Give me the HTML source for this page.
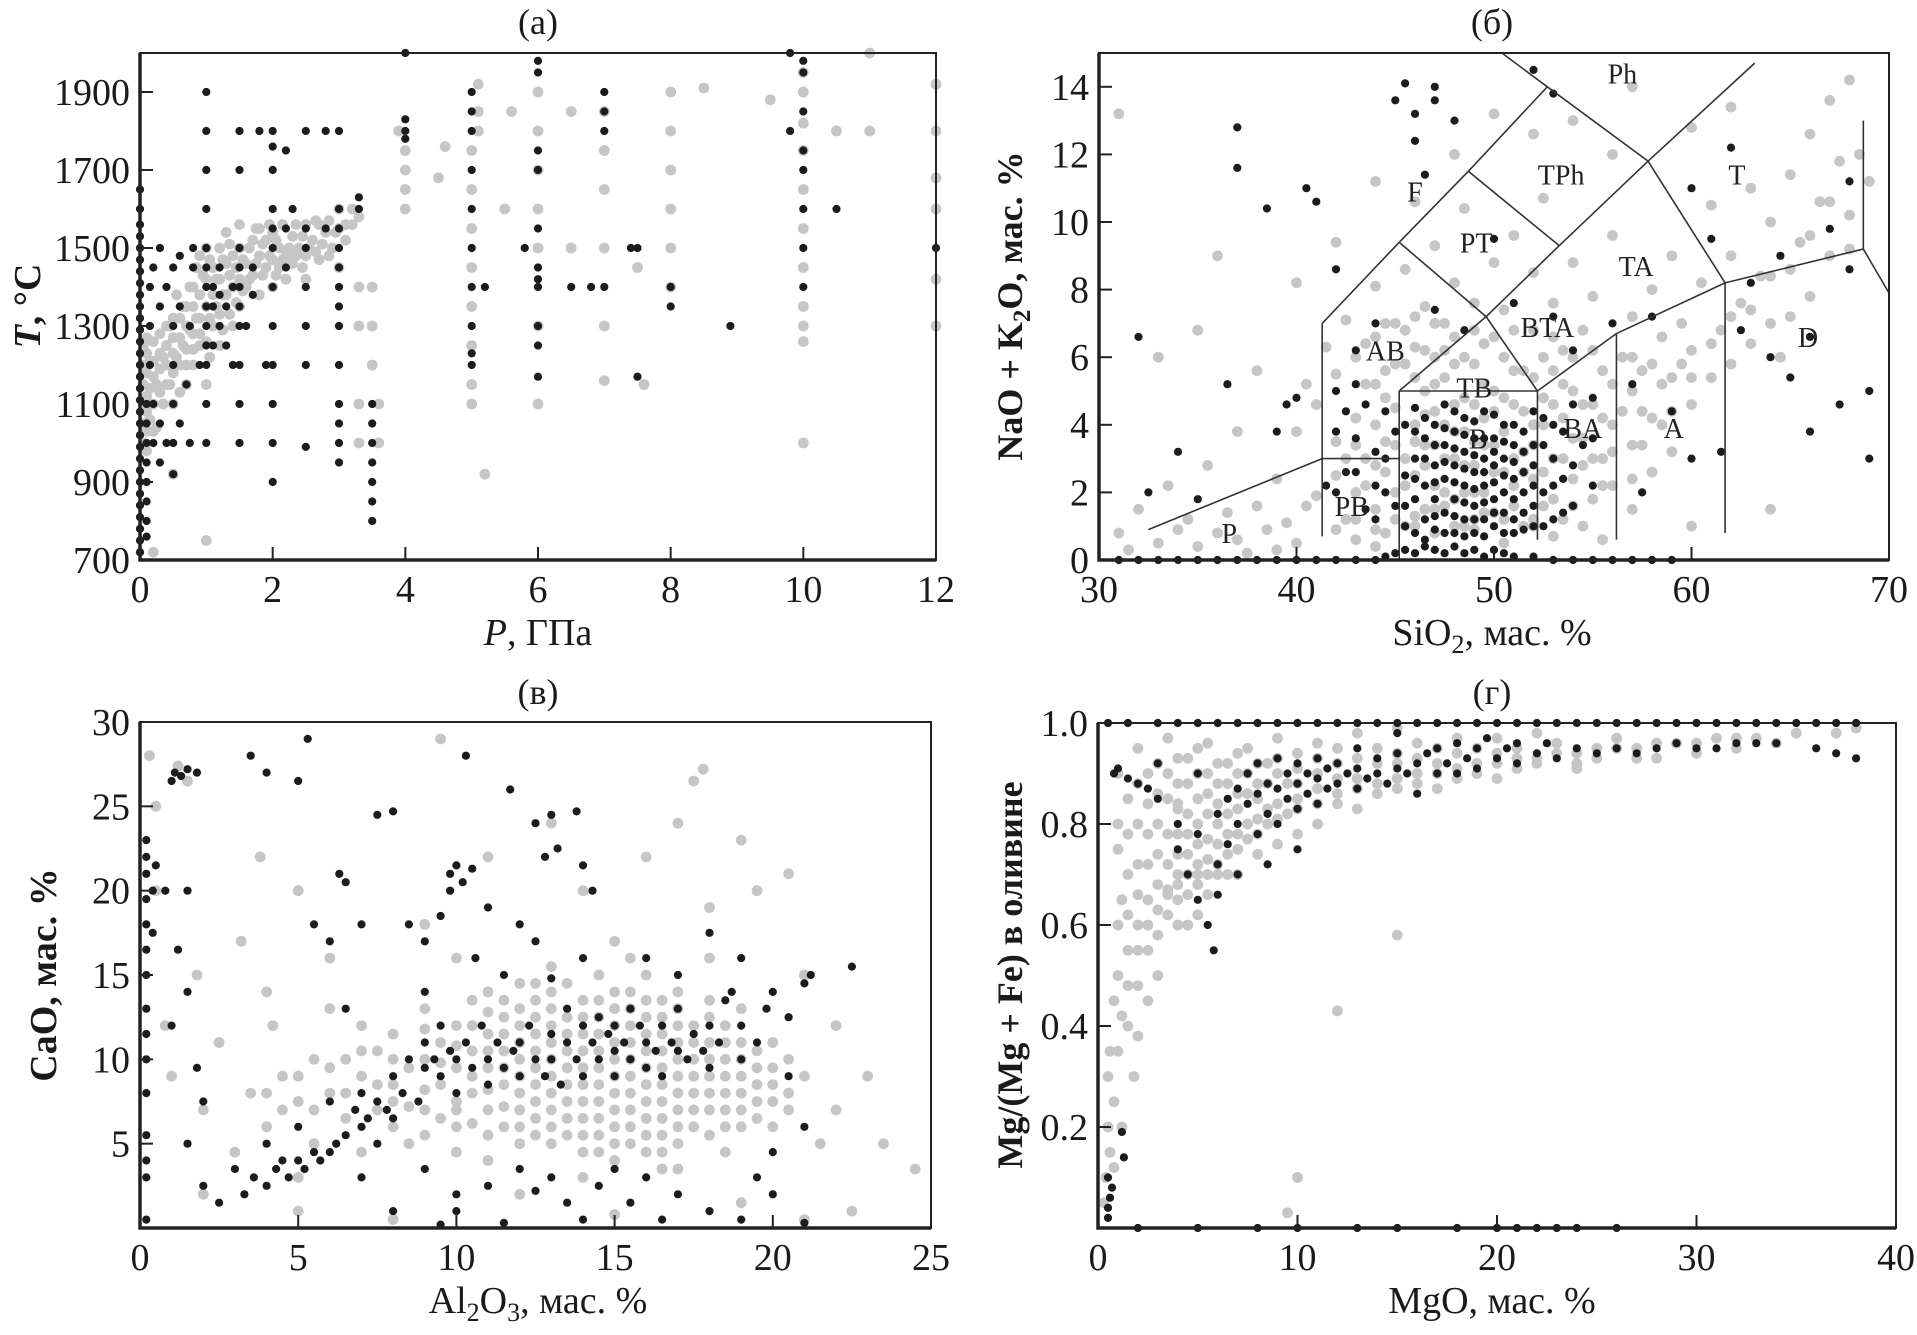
<!DOCTYPE html>
<html><head><meta charset="utf-8"><title>Scatter plots</title>
<style>
html,body{margin:0;padding:0;background:#fff;}
svg{display:block;font-family:"Liberation Serif","DejaVu Serif",serif;}
</style></head>
<body>
<svg id="fig" xmlns="http://www.w3.org/2000/svg" width="1917" height="1335" viewBox="0 0 1917 1335"></svg>
<script>
// ===== Panel (a): P, GPa vs T, C =====
const aTicksX = [0,2,4,6,8,10,12];
const aTicksY = [700,900,1100,1300,1500,1700,1900];
const aGray = [[0.05,1000],[0.05,1050],[0.05,1100],[0.05,1150],[0.05,1200],[0.05,1250],[0.1,980],[0.1,1120],[0.1,1180],[0.1,1230],[0.15,1060],[0.15,1140],[0.15,1210],[0.2,1100],[0.2,1170],[0.2,1260],[0.25,1040],[0.3,1130],[0.3,1190],[0.3,1280],[0.35,1220],[0.4,1150],[0.4,1250],[0.45,1300],[0.5,1100],[0.5,1180],[0.5,1230],[0.5,1320],[0.6,1200],[0.6,1270],[0.65,1350],[0.7,1150],[0.7,1240],[0.7,1300],[0.75,1400],[0.8,1200],[0.8,1280],[0.8,1350],[0.85,1450],[0.9,1250],[0.9,1320],[0.9,1480],[1.0,1150],[1.0,1260],[1.0,1350],[1.0,1420],[1.0,1500],[1.1,1300],[1.1,1380],[1.1,1450],[1.2,1250],[1.2,1330],[1.2,1420],[1.2,1500],[1.3,1380],[1.3,1460],[1.3,1540],[1.4,1300],[1.4,1400],[1.4,1480],[1.5,1350],[1.5,1420],[1.5,1500],[1.5,1560],[1.6,1400],[1.6,1460],[1.7,1430],[1.7,1520],[1.8,1380],[1.8,1480],[1.8,1550],[1.9,1450],[1.9,1520],[2.0,1400],[2.0,1470],[2.0,1540],[2.1,1450],[2.1,1500],[2.2,1420],[2.2,1480],[2.3,1530],[2.3,1460],[2.4,1500],[2.5,1420],[2.5,1480],[2.5,1560],[2.6,1520],[2.7,1470],[2.7,1560],[2.8,1540],[2.9,1500],[3.0,1450],[3.0,1550],[3.0,1600],[3.1,1560],[3.2,1600],[3.3,1580],[3.5,1200],[3.5,1300],[3.5,1400],[3.6,1000],[3.6,1100],[3.3,1000],[3.3,1100],[3.3,1300],[3.3,1400],[4,1600],[4,1650],[4,1700],[4,1750],[3.9,1800],[4.5,1680],[4.6,1760],[5,1100],[5,1150],[5,1250],[5,1350],[5,1450],[5,1550],[5,1650],[5,1750],[5.1,1800],[5.1,1850],[5.1,1920],[5.2,920],[5.5,1600],[5.6,1850],[6,1100],[6,1300],[6,1500],[6,1600],[6,1700],[6,1800],[6,1900],[6.5,1500],[6.5,1850],[7,1160],[7,1300],[7,1500],[7,1650],[7,1750],[7,1850],[7.5,1450],[7.6,1150],[8,1400],[8,1500],[8,1600],[8,1700],[8,1800],[8,1900],[8.5,1910],[9.5,1880],[10,1000],[10,1260],[10,1300],[10,1350],[10,1450],[10,1550],[10,1650],[10,1750],[10,1820],[10,1900],[10,1950],[10.5,1800],[11,1800],[11,2000],[12,1300],[12,1420],[12,1600],[12,1680],[12,1800],[12,1920],[1,750],[0.2,720],[0.5,920]];
const aGray2 = [[0.1,1030],[0.1,1080],[0.1,1270],[0.2,1030],[0.2,1210],[0.25,1150],[0.3,1230],[0.35,1100],[0.4,1200],[0.4,1300],[0.45,1150],[0.5,1270],[0.55,1220],[0.55,1380],[0.6,1130],[0.6,1320],[0.65,1250],[0.7,1200],[0.7,1350],[0.75,1290],[0.8,1240],[0.8,1400],[0.85,1320],[0.9,1280],[0.9,1380],[0.95,1430],[1.05,1220],[1.05,1320],[1.05,1470],[1.15,1350],[1.15,1420],[1.25,1290],[1.25,1380],[1.25,1470],[1.35,1330],[1.35,1430],[1.35,1510],[1.45,1360],[1.45,1450],[1.55,1390],[1.55,1470],[1.65,1420],[1.65,1500],[1.75,1460],[1.75,1550],[1.85,1430],[1.85,1510],[1.95,1480],[1.95,1560],[2.05,1430],[2.05,1520],[2.15,1470],[2.15,1560],[2.25,1500],[2.35,1480],[2.35,1560],[2.45,1450],[2.45,1530],[2.55,1500],[2.65,1490],[2.65,1570],[2.75,1510],[2.85,1480],[2.85,1570],[2.95,1540],[3.1,1520],[3.2,1560]];
const aBlack = [[0,720],[0,750],[0,780],[0,810],[0,840],[0,870],[0,900],[0,930],[0,960],[0,990],[0,1020],[0,1050],[0,1080],[0,1110],[0,1140],[0,1170],[0,1200],[0,1230],[0,1260],[0,1290],[0,1320],[0,1350],[0,1380],[0,1410],[0,1440],[0,1470],[0,1500],[0,1530],[0,1560],[0,1600],[0,1650],[0.1,760],[0.1,800],[0.1,850],[0.1,900],[0.1,950],[0.1,1000],[0.1,1050],[0.1,1100],[0.15,1200],[0.15,1300],[0.15,1400],[0.2,1000],[0.2,1100],[0.2,1450],[0.3,950],[0.3,1050],[0.3,1350],[0.3,1500],[0.4,1000],[0.4,1400],[0.5,920],[0.5,1000],[0.5,1100],[0.5,1200],[0.5,1300],[0.5,1450],[0.6,1050],[0.6,1350],[0.6,1480],[0.7,1150],[0.75,1000],[0.75,1300],[0.8,1450],[0.8,1500],[0.9,1200],[1,1000],[1,1100],[1,1200],[1,1250],[1,1300],[1,1350],[1,1400],[1,1450],[1,1500],[1,1600],[1,1700],[1,1800],[1,1900],[1.1,1250],[1.1,1350],[1.1,1400],[1.2,1300],[1.2,1380],[1.2,1450],[1.3,1250],[1.3,1350],[1.4,1200],[1.4,1400],[1.5,1000],[1.5,1100],[1.5,1200],[1.5,1300],[1.5,1350],[1.5,1400],[1.5,1450],[1.5,1500],[1.5,1700],[1.5,1800],[1.6,1300],[1.7,1380],[1.7,1450],[1.8,1800],[1.9,1200],[2,900],[2,1000],[2,1100],[2,1200],[2,1300],[2,1400],[2,1500],[2,1550],[2,1600],[2,1700],[2,1760],[2,1800],[2.2,1450],[2.2,1550],[2.2,1750],[2.3,1600],[2.5,990],[2.5,1200],[2.5,1300],[2.5,1400],[2.5,1500],[2.5,1550],[2.5,1800],[2.8,1550],[2.8,1800],[3,950],[3,1000],[3,1050],[3,1100],[3,1200],[3,1300],[3,1350],[3,1400],[3,1450],[3,1500],[3,1550],[3,1600],[3,1800],[3.3,1600],[3.3,1630],[3.5,800],[3.5,850],[3.5,900],[3.5,950],[3.5,1000],[3.5,1050],[3.5,1100],[4,1780],[4,1800],[4,1830],[4,2000],[5,1200],[5,1230],[5,1300],[5,1400],[5,1500],[5,1600],[5,1700],[5,1800],[5,1850],[5,1900],[5.2,1400],[5.8,1500],[6,1170],[6,1250],[6,1300],[6,1400],[6,1420],[6,1450],[6,1550],[6,1700],[6,1750],[6,1950],[6,1980],[6.5,1400],[6.8,1400],[7,1400],[7,1800],[7,1850],[7,1900],[7.4,1500],[7.5,1500],[7.5,1170],[8,1350],[8,1400],[8.9,1300],[9.8,1800],[9.8,2000],[10,1400],[10,1500],[10,1600],[10,1700],[10,1750],[10,1850],[10,1950],[10,1980],[10.5,1600],[12,1500]];

// ===== Panel (b): SiO2 vs Na2O+K2O =====
const bTicksX = [30,40,50,60,70];
const bTicksY = [0,2,4,6,8,10,12,14];
const bFieldLines = [[[32.5,0.9],[41.3,3.0]],[[41.3,3.0],[45.2,3.0]],[[41.3,0.7],[41.3,7.0]],[[41.3,7.0],[45.2,9.4]],[[45.2,9.4],[48.7,11.5]],[[48.7,11.5],[52.7,14.0]],[[52.7,14.0],[50.4,15]],[[52.7,14.0],[57.8,11.8]],[[57.8,11.8],[63.2,14.7]],[[57.8,11.8],[61.7,8.2]],[[45.2,9.4],[49.6,7.2]],[[48.7,11.5],[53.3,9.3]],[[53.3,9.3],[57.8,11.8]],[[45.2,5.0],[49.6,7.2]],[[49.6,7.2],[53.3,9.3]],[[49.6,7.2],[52.2,5.0]],[[52.2,5.0],[56.2,6.7]],[[56.2,6.7],[61.7,8.2]],[[61.7,8.2],[68.7,9.2]],[[68.7,9.2],[70,7.9]],[[68.7,13.0],[68.7,9.2]],[[45.2,5.0],[52.2,5.0]],[[45.2,5.0],[45.2,0]],[[52.2,5.0],[52.2,0.6]],[[56.2,6.7],[56.2,0.6]],[[61.7,8.2],[61.7,0.8]]];
const bFieldNames = ["Ph","TPh","T","F","PT","TA","BTA","AB","D","TB","B","BA","A","PB","P"];
const bFieldPos = [[56.5,14.4],[53.4,11.4],[62.3,11.4],[46.0,10.9],[49.1,9.4],[57.2,8.7],[52.7,6.9],[44.5,6.2],[65.9,6.6],[49.0,5.1],[49.2,3.6],[54.5,3.9],[59.1,3.9],[42.8,1.6],[36.6,0.8]];
const bGray = [[31,0.8],[31.5,0.3],[32,1.5],[33,0.5],[33.5,2.2],[34,0.9],[34.5,1.2],[35,0.4],[35.5,2.8],[36,0.8],[36.5,1.4],[37,0.6],[37.5,0.2],[38,1.6],[38.5,0.9],[39,2.4],[39.5,1.1],[40,0.5],[40,3.8],[40.5,5.2],[41,1.9],[41,4.6],[41.5,6.3],[42,2.5],[42,3.5],[42,5.5],[42.5,1.2],[42.5,7.1],[43,0.6],[43,2.0],[43,4.2],[43,6.0],[43.5,3.0],[43.5,5.2],[44,1.5],[44,2.8],[44,4.0],[44,6.6],[44,8.1],[44.5,0.8],[44.5,3.5],[44.5,5.6],[45,2.0],[45,4.5],[45,7.0],[45.5,1.0],[45.5,3.0],[45.5,5.8],[45.5,8.6],[46,2.5],[46,4.0],[46,6.3],[46.5,1.5],[46.5,3.4],[46.5,5.0],[46.5,7.5],[47,0.8],[47,2.2],[47,4.4],[47,6.0],[47,9.3],[47.5,3.0],[47.5,5.4],[47.5,7.0],[48,1.8],[48,3.8],[48,6.6],[48,8.2],[48.5,1.0],[48.5,2.8],[48.5,4.8],[48.5,10.4],[49,2.0],[49,3.5],[49,5.8],[49,7.6],[49.5,1.4],[49.5,4.2],[49.5,6.4],[50,2.6],[50,5.0],[50,8.8],[50.5,1.2],[50.5,3.8],[50.5,6.0],[50.5,7.4],[51,2.2],[51,4.6],[51,9.6],[51.5,1.0],[51.5,3.2],[51.5,5.6],[52,2.4],[52,4.0],[52,6.8],[52,8.5],[52.5,1.6],[52.5,4.8],[52.5,10.7],[53,3.0],[53,5.6],[53,7.6],[53.5,1.2],[53.5,4.2],[53.5,6.2],[54,2.4],[54,5.0],[54,8.8],[54.5,3.6],[54.5,6.8],[55,1.8],[55,4.6],[55,7.8],[55.5,3.0],[55.5,5.6],[56,2.2],[56,4.0],[56,9.6],[56.5,6.0],[57,3.4],[57,5.0],[57,7.2],[57.5,4.4],[58,2.6],[58,5.8],[58,8.0],[58.5,4.0],[58.5,6.6],[59,3.2],[59,5.4],[59,9.0],[59.5,7.0],[60,4.6],[60,6.2],[60.5,8.2],[61,5.4],[61,10.5],[61.5,6.8],[62,5.8],[62,9.0],[62.5,7.6],[63,6.4],[63,11.0],[63.5,8.4],[64,7.0],[64,10.0],[64.5,6.0],[65,8.6],[65,11.4],[65.5,9.4],[66,7.8],[66,12.6],[66.5,10.6],[67,9.0],[67,13.6],[67.5,11.8],[68,10.2],[68,14.2],[68.5,12.0],[69,11.2],[60,1.0],[60,12.8],[62,13.4],[64,1.5],[57,14.0],[56,12.0],[54,13.0],[52,12.6],[50,13.2],[48,12.0],[46,10.6],[44,11.2],[42,9.4],[40,8.2],[38,5.6],[37,3.8],[36,9.0],[35,6.8],[33,6.0],[31,13.2],[46,1.0],[47.5,1.6],[49,0.9],[50.5,0.5],[52,1.2],[53,0.7],[54.5,1.0],[55.5,0.6],[57,1.5],[44,0.4],[42,0.9],[40.5,1.6],[39,0.3]];
const bGray2 = [[42.5,3.0],[43,1.2],[43,3.4],[43.5,2.2],[43.5,6.4],[44,0.9],[44,5.2],[44.5,2.6],[44.5,4.8],[44.5,7.0],[45,1.2],[45,3.4],[45,5.8],[45.5,2.2],[45.5,6.8],[46,1.3],[46,3.5],[46,5.4],[46,7.2],[46.5,2.8],[46.5,4.3],[46.5,6.2],[47,1.5],[47,3.4],[47,5.2],[47,7.0],[47.5,2.0],[47.5,4.0],[47.5,6.2],[48,1.0],[48,3.0],[48,4.6],[48,5.8],[48.5,2.0],[48.5,3.8],[48.5,6.0],[49,1.2],[49,2.8],[49,4.6],[49,6.8],[49.5,2.0],[49.5,3.4],[49.5,5.2],[50,1.4],[50,3.4],[50,4.4],[50,6.6],[50.5,2.6],[50.5,4.8],[51,1.6],[51,3.0],[51,5.6],[51,6.8],[51.5,2.6],[51.5,4.4],[52,1.0],[52,3.4],[52,5.4],[52.5,2.6],[52.5,4.0],[52.5,6.0],[53,1.8],[53,4.6],[53,6.6],[53.5,3.0],[53.5,5.2],[54,1.6],[54,3.6],[54,6.0],[54.5,2.8],[54.5,4.6],[55,3.0],[55,6.2],[55.5,2.2],[55.5,4.2],[56,3.2],[56,5.2],[56.5,4.4],[57,2.4],[57,6.0],[57.5,3.4],[57.5,5.6],[58,4.2],[58.5,5.2],[59,4.4],[59.5,5.8],[60,5.4],[61,6.4],[62,7.2],[63,7.4],[64,8.4],[65,7.2],[66,9.6],[67,10.6],[68,9.2]];
const bBlack = [[31,0],[32,0],[33,0],[34,0],[35,0],[36,0],[37,0],[38,0],[39,0],[40,0],[41,0],[42,0],[43,0],[44,0],[44.5,0.1],[45,0.2],[45.5,0.3],[46,0.2],[46.5,0.4],[47,0.3],[47.5,0.2],[48,0.4],[48.5,0.2],[49,0.3],[49.5,0.1],[50,0.3],[50.5,0.2],[51,0.1],[52,0.1],[53,0],[54,0],[55,0],[56,0],[57,0],[58,0],[59,0],[45.5,1.0],[45.5,2.5],[45.5,4.0],[46,0.8],[46,1.8],[46,3.0],[46,4.5],[46.5,1.2],[46.5,2.2],[46.5,3.6],[47,0.9],[47,1.8],[47,2.8],[47,4.0],[47.5,1.4],[47.5,2.4],[47.5,3.4],[47.5,4.6],[48,0.8],[48,1.8],[48,2.8],[48,3.8],[48.5,1.2],[48.5,2.2],[48.5,3.2],[48.5,4.2],[49,0.8],[49,1.6],[49,2.6],[49,3.6],[49.5,1.2],[49.5,2.2],[49.5,3.0],[49.5,4.4],[50,1.0],[50,1.8],[50,2.8],[50,3.6],[50.5,0.8],[50.5,2.0],[50.5,3.0],[50.5,4.0],[51,1.2],[51,2.4],[51,3.4],[51.5,0.9],[51.5,2.0],[51.5,3.8],[52,1.6],[52,2.8],[52,4.4],[52.5,1.0],[52.5,3.4],[53,2.2],[53,4.0],[53.5,1.4],[54,2.8],[54,4.6],[44.5,2.0],[44.5,4.4],[44,1.2],[44,3.2],[43.5,4.6],[43,2.6],[42.5,4.4],[42,3.8],[42,5.0],[41.5,2.2],[32,6.6],[32.5,2.0],[34,3.2],[35,1.8],[36.5,5.2],[37,11.6],[37,12.8],[38.5,10.4],[39,3.8],[39.5,4.6],[40,4.8],[40.5,11.0],[41,10.6],[42,8.6],[43,6.2],[44,7.0],[45,13.6],[45.5,14.1],[46,13.2],[46,12.4],[47,14.0],[47,13.6],[48,13.0],[46.5,11.4],[47,7.4],[48.5,6.8],[50,9.5],[51,7.6],[53,7.2],[54,6.2],[55,3.6],[56,7.0],[57.5,2.0],[58,7.2],[59,4.4],[60,3.0],[61,9.5],[61.5,3.2],[62,12.2],[62.5,6.8],[63,8.2],[64,6.0],[64.5,9.0],[65,5.4],[66,6.6],[67,9.8],[67.5,4.6],[68,11.2],[68,8.6],[69,3.0],[69,5.0],[66,3.8],[52,14.5],[53,13.8],[55,4.8],[57,5.2],[60,11.0]];
const bBlack2 = [[45.5,1.6],[46,2.4],[46,3.8],[46.5,0.6],[46.5,3.0],[46.5,4.2],[47,1.3],[47,2.3],[47,3.4],[47.5,0.8],[47.5,2.9],[47.5,3.9],[48,1.3],[48,2.3],[48,3.3],[48,4.4],[48.5,0.7],[48.5,1.7],[48.5,2.7],[48.5,3.7],[49,1.2],[49,2.1],[49,3.1],[49,4.1],[49.5,0.7],[49.5,1.7],[49.5,2.6],[49.5,3.6],[50,1.4],[50,2.3],[50,3.2],[50,4.3],[50.5,1.4],[50.5,2.5],[50.5,3.5],[51,0.8],[51,1.8],[51,2.9],[51,4.0],[51.5,1.4],[51.5,2.6],[51.5,3.2],[52,1.0],[52,2.2],[52,3.4],[52.5,2.0],[52.5,4.2],[53,1.2],[53,3.0],[53.5,2.4],[53.5,3.8],[54,1.6],[54.5,3.4],[55,2.2],[44.5,3.0],[44,2.2],[43.5,1.5],[43,3.6],[42.5,2.6],[45,3.8],[45,1.6],[42,2.0],[43,5.2]];

// ===== Panel (v): Al2O3 vs CaO =====
const cTicksX = [0,5,10,15,20,25];
const cTicksY = [5,10,15,20,25,30];
const cGray = [[0.3,28],[0.5,25],[0.5,20],[0.8,12],[1,9],[1.2,27.4],[1.5,26.5],[1.8,15],[2,7],[2.5,11],[3,4.5],[3.2,17],[3.5,8],[3.8,22],[4,6],[4.2,12],[4.5,9],[5,7.5],[5,3],[5.5,10],[5.5,5],[6,8],[6,13],[6.5,6.5],[6.5,10],[7,9],[7,4.5],[7,12],[7.5,7],[7.5,10.5],[8,8.5],[8,6],[8,11.5],[8.5,9.5],[8.5,5],[9,7],[9,10],[9,13],[9.5,8.5],[9.5,11],[9.5,29],[10,6],[10,9.5],[10,12],[10,16],[10.5,8],[10.5,10.5],[10.5,13.5],[11,7],[11,9.5],[11,11.5],[11,14],[11,4],[11.5,8.5],[11.5,10.5],[11.5,12.5],[12,6],[12,8],[12,10],[12,12],[12,14.5],[12,2],[12.5,7.5],[12.5,9.5],[12.5,11.5],[12.5,13.5],[13,5],[13,7],[13,9],[13,11],[13,13],[13,15.5],[13.5,6.5],[13.5,8.5],[13.5,10.5],[13.5,12.5],[14,5.5],[14,7.5],[14,9.5],[14,11.5],[14,13.5],[14,3],[14.5,6.5],[14.5,8.5],[14.5,10.5],[14.5,12.5],[14.5,15],[15,5],[15,7],[15,9],[15,11],[15,13],[15,17],[15.5,6],[15.5,8],[15.5,10],[15.5,12],[15.5,14],[16,4.5],[16,6.5],[16,8.5],[16,10.5],[16,12.5],[16,15],[16.5,5.5],[16.5,7.5],[16.5,9.5],[16.5,11.5],[16.5,13.5],[17,6],[17,8],[17,10],[17,12],[17,14],[17,3.5],[17.5,7],[17.5,9],[17.5,11],[17.5,26.5],[17.8,27.2],[18,5.5],[18,8],[18,10],[18,12.5],[18,16],[18.5,7],[18.5,9],[18.5,11],[19,6],[19,8],[19,10],[19,13],[19.5,7.5],[19.5,9.5],[19.5,20],[20,6],[20,8.5],[20,11],[20.5,7],[20.5,21],[21,9],[21,15],[21.5,5],[22,7],[22,12],[23,9],[23.5,5],[24.5,3.5],[19,1.5],[18,19],[16,22],[17,24],[19,23],[14,20],[13,24],[11,22],[9,18],[6,16],[5,20],[4,14],[2,2],[22.5,1],[21,0.5],[15,0.8],[8,0.5],[5,1],[12.5,5.5],[14.5,4.5],[16.5,3.5],[18.5,4.5],[13.5,14.5],[15.5,16],[11.5,6],[10,7.5],[9,5.5]];
const cGray2 = [[8.5,7.2],[9,8.2],[9,11.8],[9.5,6.5],[9.5,9.8],[10,4.5],[10,7],[10,10.8],[10.5,6.2],[10.5,9],[10.5,12],[11,5.5],[11,8.2],[11,10.5],[11,12.8],[11.5,7.2],[11.5,9.5],[11.5,11.5],[11.5,13.5],[12,5],[12,7],[12,9],[12,11],[12,13],[12.5,6.5],[12.5,8.5],[12.5,10.5],[12.5,12.5],[12.5,14.5],[13,6],[13,8],[13,10],[13,12],[13,14],[13.5,5.5],[13.5,7.5],[13.5,9.5],[13.5,11.5],[14,4.5],[14,6.5],[14,8.5],[14,10.5],[14,12.5],[14.5,5.5],[14.5,7.5],[14.5,9.5],[14.5,11.5],[14.5,13.5],[15,4],[15,6],[15,8],[15,10],[15,12],[15,14],[15.5,5],[15.5,7],[15.5,9],[15.5,11],[15.5,13],[16,5.5],[16,7.5],[16,9.5],[16,11.5],[16,13.5],[16.5,4.5],[16.5,6.5],[16.5,8.5],[16.5,10.5],[16.5,12.5],[17,5],[17,7],[17,9],[17,11],[17,13],[17.5,6],[17.5,8],[17.5,10],[17.5,12],[18,7],[18,9],[18,11],[18,13.5],[18.5,6],[18.5,8],[18.5,10],[18.5,12],[19,7],[19,9],[19,11],[19.5,6.5],[19.5,8.5],[19.5,10.5],[20,7.5],[20,9.5],[20.5,8],[20.5,10],[7,10.5],[7.5,8.5],[8,7.5],[8,10],[6.5,8],[6,9.5],[5.5,7],[5,9],[4.5,7],[4,8]];
const cBlack = [[0.2,0.5],[0.2,3],[0.2,4],[0.2,5.5],[0.2,8],[0.2,10],[0.2,11.5],[0.2,13],[0.2,15],[0.2,16.5],[0.2,18],[0.2,19.5],[0.2,21],[0.2,22],[0.2,23],[0.4,17.5],[0.4,20],[0.5,21.5],[0.8,20],[1,26.5],[1.1,27],[1.3,26.8],[1.5,27.2],[1.8,27],[1.2,16.5],[1.5,14],[1.8,9.5],[1.5,5],[2,2.5],[2,7.5],[1,12],[1.5,20],[2.5,1.5],[3,3.5],[3.3,2],[3.6,3],[4,2.5],[4,5],[4.3,3.5],[4.5,4],[4.7,3],[5,4],[5,6],[5.2,3.5],[5.5,4.5],[5.7,4],[6,4.5],[6,7.5],[6.2,5],[6.5,5.5],[6.5,13],[6.8,7],[7,6],[7,8],[7.2,6.5],[7.5,7.5],[7.5,5],[7.8,7],[8,9],[8,6.5],[8.3,8],[8.5,10],[8.8,7.5],[9,9.5],[9,11],[9.3,10],[9.5,9],[9.5,12],[9.8,10.5],[10,10],[10,8],[10.3,11],[10.5,9.5],[10.8,12],[11,10],[11,8.5],[11.3,11],[11.5,9.5],[11.8,10.5],[12,11],[12,9],[12.3,12],[12.5,10],[12.8,9],[13,11.5],[13,10],[13.3,8.5],[13.5,11],[13.5,13],[13.8,10],[14,12],[14,9],[14.3,11],[14.5,10],[14.5,12.5],[14.8,11.5],[15,10.5],[15,12],[15,9],[15.3,11],[15.5,13],[15.5,10],[15.8,12],[16,11],[16,9.5],[16.3,10.5],[16.5,12],[16.5,9],[16.8,11],[17,10.5],[17,13],[17.3,10],[17.5,11.5],[17.8,10.5],[18,12],[18,9.5],[18.3,11],[18.5,13.5],[19,12],[19,10],[19.5,11],[19.8,13],[20,14],[20.5,12.5],[21,14.5],[21.2,15],[22.5,15.5],[5,26.5],[5.3,29],[4,27],[3.5,28],[5.5,18],[6,17],[6.3,21],[6.5,20.5],[7,18],[7.5,24.5],[8,24.7],[8.5,18],[9,17],[9,14],[9.5,18.5],[9.8,21],[10,21.5],[10.2,20.5],[10.5,21.3],[9.8,20],[10.6,16],[10.3,28],[11,19],[11.5,15],[12,18],[11.7,26],[12.5,24],[12.8,22],[13,24.5],[13.2,22.5],[13.8,24.7],[14,21.5],[14.3,20],[12.5,17],[14,16],[13,14.8],[9,3.5],[10,1],[10,2],[11,2.5],[11.5,0.3],[12,3.5],[12.5,2.2],[13,3],[13.5,1.5],[14,0.5],[14.5,2.5],[15,3.5],[15.5,1.5],[16,3],[16.5,0.5],[17,2],[18,1],[19,0.5],[19.5,3],[20,2],[20,4.5],[21,0.3],[7,3],[8,1],[9.5,0.2],[21,6],[20.5,9],[19,16],[18,17.5],[17,15],[16,16],[18.7,14]];

// ===== Panel (g): MgO vs Mg/(Mg+Fe) =====
const dTicksX = [0,10,20,30,40];
const dTicksY = [0.2,0.4,0.6,0.8,1.0];
const dGray = [[0.3,0.05],[0.4,0.1],[0.5,0.2],[0.6,0.15],[0.8,0.25],[0.5,0.3],[1,0.35],[1,0.5],[1,0.6],[1,0.75],[1,0.9],[1.2,0.42],[1.5,0.4],[1.5,0.55],[1.5,0.7],[1.5,0.85],[2,0.48],[2,0.6],[2,0.72],[2,0.88],[2,0.95],[2.5,0.55],[2.5,0.65],[2.5,0.78],[2.5,0.9],[3,0.58],[3,0.68],[3,0.8],[3,0.92],[3.5,0.62],[3.5,0.72],[3.5,0.85],[3.5,0.97],[4,0.65],[4,0.7],[4,0.78],[4,0.88],[4.5,0.66],[4.5,0.74],[4.5,0.82],[4.5,0.93],[5,0.68],[5,0.72],[5,0.8],[5,0.9],[5.5,0.7],[5.5,0.77],[5.5,0.86],[5.5,0.96],[6,0.72],[6,0.8],[6,0.88],[6.5,0.74],[6.5,0.82],[6.5,0.92],[7,0.75],[7,0.83],[7,0.9],[7.5,0.77],[7.5,0.86],[7.5,0.95],[8,0.78],[8,0.85],[8,0.92],[8.5,0.8],[8.5,0.88],[9,0.81],[9,0.9],[9,0.97],[10,0.83],[10,0.88],[10,0.94],[11,0.84],[11,0.9],[11,0.96],[12,0.86],[12,0.92],[13,0.87],[13,0.93],[13,0.98],[14,0.88],[14,0.95],[15,0.89],[15,0.94],[15,0.99],[16,0.9],[16,0.96],[17,0.9],[17,0.95],[18,0.91],[18,0.97],[19,0.92],[20,0.92],[20,0.97],[21,0.93],[22,0.93],[22,0.98],[23,0.94],[24,0.94],[25,0.95],[26,0.95],[27,0.95],[28,0.96],[29,0.96],[30,0.96],[31,0.97],[32,0.97],[33,0.97],[35,0.98],[37,0.98],[38,0.99],[15,0.58],[12,0.43],[10,0.1],[9.5,0.03],[6,0.84],[4,0.6],[3,0.5],[2.5,0.45],[1.8,0.3],[1.2,0.2],[0.8,0.12],[5,0.62],[7,0.7],[9,0.76],[11,0.8],[13,0.83],[17,0.87],[20,0.89],[24,0.91],[28,0.93],[3,0.74],[4,0.83],[5.5,0.66],[6.5,0.7],[8,0.74],[10,0.78],[3.5,0.67],[2,0.66],[4.5,0.6],[1.5,0.62]];
const dGray2 = [[1.5,0.78],[2,0.55],[2,0.8],[2.5,0.6],[2.5,0.72],[2.5,0.84],[3,0.63],[3,0.86],[3.5,0.66],[3.5,0.78],[3.5,0.9],[4,0.68],[4,0.74],[4,0.84],[4,0.93],[4.5,0.7],[4.5,0.78],[4.5,0.88],[5,0.7],[5,0.76],[5,0.85],[5,0.95],[5.5,0.73],[5.5,0.82],[5.5,0.9],[6,0.7],[6,0.76],[6,0.92],[6.5,0.78],[6.5,0.88],[7,0.78],[7,0.86],[7,0.94],[7.5,0.8],[7.5,0.9],[8,0.81],[8,0.88],[8.5,0.83],[8.5,0.92],[9,0.84],[9,0.93],[9.5,0.82],[9.5,0.88],[10,0.85],[10,0.91],[11,0.87],[11,0.93],[12,0.84],[12,0.89],[12,0.95],[13,0.89],[14,0.86],[14,0.92],[15,0.87],[15,0.92],[16,0.88],[16,0.93],[17,0.92],[18,0.89],[18,0.94],[19,0.9],[19,0.95],[20,0.94],[21,0.91],[21,0.95],[22,0.92],[23,0.96],[24,0.92],[25,0.93],[26,0.97],[27,0.93],[30,0.94],[32,0.95],[34,0.96],[1,0.8],[1.2,0.65],[0.8,0.45],[0.6,0.35],[1.5,0.48],[2,0.38]];
const dBlack = [[0.5,0.02],[0.5,0.04],[0.6,0.06],[0.7,0.08],[0.5,0.1],[1.3,0.14],[1.2,0.19],[0.8,0.9],[1,0.91],[1.5,0.89],[2,0.88],[2.5,0.87],[3,0.85],[4,0.8],[4,0.75],[4.5,0.7],[5,0.78],[5,0.65],[5.5,0.6],[5.8,0.55],[6,0.82],[6,0.72],[6.5,0.85],[6.5,0.76],[7,0.8],[7,0.87],[7,0.7],[7.5,0.84],[7.5,0.9],[8,0.78],[8,0.86],[8,0.92],[8.5,0.82],[8.5,0.88],[9,0.8],[9,0.87],[9,0.93],[9.5,0.85],[9.5,0.9],[10,0.75],[10,0.83],[10,0.88],[10,0.92],[10.5,0.86],[10.5,0.9],[11,0.84],[11,0.89],[11,0.93],[11.5,0.87],[11.5,0.91],[12,0.88],[12,0.92],[12.5,0.9],[13,0.87],[13,0.91],[13,0.95],[13.5,0.89],[14,0.9],[14,0.93],[14.5,0.88],[15,0.91],[15,0.94],[15,0.98],[15.5,0.9],[16,0.92],[16,0.86],[16.5,0.94],[17,0.9],[17,0.95],[17.5,0.92],[18,0.9],[18,0.96],[18.5,0.93],[19,0.91],[19,0.95],[19.5,0.97],[20,0.93],[20.5,0.95],[21,0.92],[21,0.96],[22,0.94],[22.5,0.96],[23,0.93],[24,0.95],[25,0.94],[26,0.95],[27,0.94],[28,0.95],[29,0.96],[30,0.95],[31,0.95],[32,0.96],[33,0.96],[34,0.96],[36,0.95],[37,0.94],[38,0.93],[3,0.92],[5,0.9],[6,0.66],[8.5,0.72],[0.5,1],[1.5,1],[3,1],[4,1],[5,1],[6,1],[7,1],[8,1],[9,1],[10,1],[11,1],[12,1],[13,1],[14,1],[15,1],[16,1],[17,1],[18,1],[19,1],[20,1],[21,1],[22,1],[23,1],[24,1],[25,1],[26,1],[27,1],[28,1],[29,1],[30,1],[31,1],[32,1],[33,1],[34,1],[35,1],[36,1],[37,1],[38,1],[2,0],[5,0],[8,0],[10,0],[13,0],[15,0],[18,0],[20,0],[21,0],[22,0],[23,0],[24,0],[26,0]];

const NS = "http://www.w3.org/2000/svg";
const svg = document.getElementById("fig");
function mk(tag, attrs, parent) {
  const e = document.createElementNS(NS, tag);
  for (const k in attrs) e.setAttribute(k, attrs[k]);
  (parent || svg).appendChild(e);
  return e;
}
function scale(d0, d1, p0, p1) { return v => p0 + (v - d0) * (p1 - p0) / (d1 - d0); }

function panel(o) {
  const g = mk("g", {});
  
  
  const sx = scale(o.xd[0], o.xd[1], o.L, o.R);
  const sy = scale(o.yd[0], o.yd[1], o.B, o.T);
  const gg = mk("g", {fill:"#c6c6c6"}, g);
  
  
  for (const p of o.gray) {
    const c = mk("circle", {cx:sx(p[0]).toFixed(1), cy:sy(p[1]).toFixed(1), r:5.4}, gg);
    
    
  }
  const gb = mk("g", {fill:"#1c1c1c"}, g);
  
  
  for (const p of o.black) {
    const c = mk("circle", {cx:sx(p[0]).toFixed(1), cy:sy(p[1]).toFixed(1), r:4.1}, gb);
    
    
  }
  if (o.extra) o.extra(g, sx, sy);
  const fr = mk("rect", {x:o.L, y:o.T, width:o.R-o.L, height:o.B-o.T, fill:"none", stroke:"#222", "stroke-width":2}, g);
  
  
  const ax = mk("path", {d:`M${o.L},${o.T} V${o.B} H${o.R}`, fill:"none", stroke:"#222", "stroke-width":3.5}, g);
  
  
  for (const t of o.tx) {
    const x = sx(t);
    const tk = mk("line", {x1:x, x2:x, y1:o.B, y2:o.B-13, stroke:"#222", "stroke-width":2}, g);
    
    
    const tl = mk("text", {x:x, y:o.B+42, "font-size":38, "text-anchor":"middle", fill:"#1a1a1a"}, g);
    
    
    tl.textContent = o.fx ? o.fx(t) : t;
  }
  for (const t of o.ty) {
    const y = sy(t);
    const tk = mk("line", {x1:o.L, x2:o.L+13, y1:y, y2:y, stroke:"#222", "stroke-width":2}, g);
    
    
    const tl = mk("text", {x:o.L-10, y:y+13, "font-size":38, "text-anchor":"end", fill:"#1a1a1a"}, g);
    
    
    tl.textContent = o.fy ? o.fy(t) : t;
  }
  return g;
}

panel({name:"panel-a", L:140, R:936, T:53, B:560, xd:[0,12], yd:[700,2000], tx:aTicksX, ty:aTicksY, gray:aGray.concat(aGray2), black:aBlack});
panel({name:"panel-b", L:1099, R:1889, T:53, B:560, xd:[30,70], yd:[0,15], tx:bTicksX, ty:bTicksY, gray:bGray.concat(bGray2), black:bBlack.concat(bBlack2),
  extra:(g, sx, sy) => {
    for (const ln of bFieldLines) {
      const l = mk("line", {x1:sx(ln[0][0]), y1:sy(ln[0][1]), x2:sx(ln[1][0]), y2:sy(ln[1][1]), stroke:"#333", "stroke-width":1.6}, g);
      
      
    }
    bFieldNames.forEach((n, i) => {
      const t = mk("text", {x:sx(bFieldPos[i][0]), y:sy(bFieldPos[i][1])+10, "font-size":28, "text-anchor":"middle", fill:"#222"}, g);
      
      
      t.textContent = n;
    });
  }});
panel({name:"panel-c", L:140, R:931, T:722, B:1228, xd:[0,25], yd:[0,30], tx:cTicksX, ty:cTicksY, gray:cGray.concat(cGray2), black:cBlack});
panel({name:"panel-d", L:1098, R:1896, T:723, B:1228, xd:[0,40], yd:[0,1], tx:dTicksX, ty:dTicksY, gray:dGray.concat(dGray2), black:dBlack, fy:t=>t.toFixed(1)});
</script>
<svg style="position:absolute;left:0;top:0;pointer-events:none" width="1917" height="1335">
  <g font-family="Liberation Serif, DejaVu Serif, serif" fill="#1a1a1a" font-size="36" text-anchor="middle">
    <text x="538" y="34">(а)</text>
    <text x="1492" y="34">(б)</text>
    <text x="538" y="704">(в)</text>
    <text x="1492" y="704">(г)</text>
    <text x="538" y="645" font-size="38"><tspan font-style="italic">P</tspan>, ГПа</text>
    <text x="1492" y="645" font-size="38">SiO<tspan font-size="26" dy="8">2</tspan><tspan dy="-8">, мас. %</tspan></text>
    <text x="538" y="1313" font-size="38">Al<tspan font-size="26" dy="8">2</tspan><tspan dy="-8">O</tspan><tspan font-size="26" dy="8">3</tspan><tspan dy="-8">, мас. %</tspan></text>
    <text x="1492" y="1313" font-size="38">MgO, мас. %</text>
    <text transform="translate(40,306) rotate(-90)" font-size="38" font-weight="bold"><tspan font-style="italic">T</tspan>, °C</text>
    <text transform="translate(1022,306) rotate(-90)" font-size="36" font-weight="bold">NaO + K<tspan font-size="25" dy="8">2</tspan><tspan dy="-8">O, мас. %</tspan></text>
    <text transform="translate(56,975) rotate(-90)" font-size="38" font-weight="bold">CaO, мас. %</text>
    <text transform="translate(1022,975) rotate(-90)" font-size="36" font-weight="bold">Mg/(Mg + Fe) в оливине</text>
  </g>
</svg>
</body></html>
